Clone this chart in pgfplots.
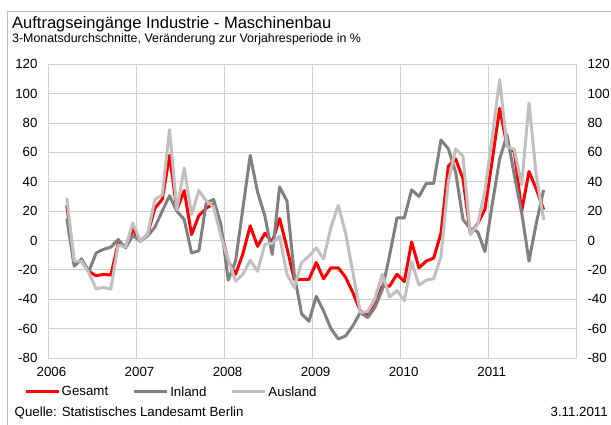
\documentclass[border=0pt]{standalone}
\usepackage{pgfplots}
\pgfplotsset{compat=1.18}
\usepackage{fontspec}
\setmainfont{Liberation Sans}
\definecolor{gesamt}{RGB}{255,0,0}
\definecolor{inland}{RGB}{128,128,128}
\definecolor{ausland}{RGB}{192,192,192}
\definecolor{gridc}{RGB}{206,206,206}
\definecolor{framec}{RGB}{190,190,190}
\pgfplotsset{base/.style={
  scale only axis, width=528.2pt, height=293.7pt,
  xmin=0,xmax=72,ymin=-80,ymax=120,
  xtick={0,12,...,72}, xticklabels={2006,2007,2008,2009,2010,2011,{}},
  ytick={-80,-60,...,120},
  major tick length=0pt,
  axis line style={draw=gridc, line width=1pt},
  /pgf/number format/assume math mode=true,
  ticklabel style={font=\fontsize{13.3}{16}\selectfont},
}}
\begin{document}
\begin{tikzpicture}[x=1pt,y=1pt]
\begin{axis}[base, at={(48.5pt,-358pt)}, anchor=south west,
  grid=major, major grid style={draw=gridc,line width=1pt},
  yticklabel style={xshift=-7.5pt},
  xticklabel style={xshift=3pt,yshift=-6pt},
  legend columns=3,
  legend style={draw=none, fill=none, inner sep=0pt, at={(-0.04638,-0.11576)}, anchor=west,
    font=\fontsize{13.3}{16}\selectfont, nodes={inner xsep=1.5pt},
    /tikz/every even column/.append style={column sep=23pt}},
  legend image code/.code={\draw[#1] (0pt,0pt) -- (33pt,0pt);},
  every axis plot/.append style={line width=3pt, line join=round},
]
\addplot[gesamt] coordinates {
(2.5,24)(3.5,-15)(4.5,-14)(5.5,-21)(6.5,-24)(7.5,-23)(8.5,-23.5)(9.5,-2)(10.5,-4)(11.5,7.5)(12.5,-0.5)(13.5,4)(14.5,22)(15.5,28)(16.5,58)(17.5,21)(18.5,34)(19.5,4)(20.5,17)(21.5,22)(22.5,25)(23.5,6)(24.5,-14)(25.5,-23)(26.5,-9)(27.5,10)(28.5,-4)(29.5,5)(30.5,-1)(31.5,15)(32.5,-5)(33.5,-26.5)(34.5,-26.5)(35.5,-26.5)(36.5,-15)(37.5,-26)(38.5,-18.6)(39.5,-18.6)(40.5,-25)(41.5,-35.6)(42.5,-48)(43.5,-51)(44.5,-44)(45.5,-31)(46.5,-31)(47.5,-23)(48.5,-28)(49.5,-1)(50.5,-18.6)(51.5,-14)(52.5,-12)(53.5,5)(54.5,50.6)(55.5,55.6)(56.5,42)(57.5,4.5)(58.5,11.5)(59.5,21.5)(60.5,55)(61.5,90)(62.5,64.5)(63.5,60.5)(64.5,20)(65.5,47)(66.5,35)(67.5,21)
};
\addlegendentry{Gesamt}
\addplot[inland] coordinates {
(2.5,15)(3.5,-17.5)(4.5,-12.5)(5.5,-21)(6.5,-8.4)(7.5,-6)(8.5,-4.5)(9.5,0.7)(10.5,-5)(11.5,3.5)(12.5,-0.5)(13.5,3)(14.5,9)(15.5,20)(16.5,30.5)(17.5,20)(18.5,14.3)(19.5,-8.4)(20.5,-7)(21.5,25.6)(22.5,28)(23.5,11)(24.5,-27)(25.5,-14)(26.5,22)(27.5,58)(28.5,33)(29.5,16.6)(30.5,-9.5)(31.5,36.5)(32.5,27)(33.5,-23)(34.5,-50)(35.5,-55)(36.5,-38)(37.5,-48)(38.5,-60)(39.5,-67)(40.5,-65)(41.5,-58)(42.5,-49)(43.5,-52.5)(44.5,-45.5)(45.5,-33.4)(46.5,-10)(47.5,15.4)(48.5,15.4)(49.5,34.5)(50.5,30)(51.5,39)(52.5,38.8)(53.5,68.5)(54.5,62.5)(55.5,46.5)(56.5,14.3)(57.5,8)(58.5,6)(59.5,-7.5)(60.5,25)(61.5,55.5)(62.5,72)(63.5,44.5)(64.5,19)(65.5,-14)(66.5,12)(67.5,34.5)
};
\addlegendentry{Inland}
\addplot[ausland] coordinates {
(2.5,29)(3.5,-14)(4.5,-14)(5.5,-22)(6.5,-33)(7.5,-32)(8.5,-33)(9.5,-3)(10.5,-4.5)(11.5,12)(12.5,-0.5)(13.5,4)(14.5,28)(15.5,31)(16.5,75.5)(17.5,21)(18.5,49.5)(19.5,17.7)(20.5,34)(21.5,27)(22.5,23)(23.5,3)(24.5,-13)(25.5,-27.7)(26.5,-23)(27.5,-13.5)(28.5,-21)(29.5,-2.5)(30.5,-2)(31.5,3)(32.5,-23)(33.5,-32)(34.5,-15)(35.5,-10.7)(36.5,-5)(37.5,-12.5)(38.5,9)(39.5,24)(40.5,5)(41.5,-22)(42.5,-49)(43.5,-48.5)(44.5,-39.5)(45.5,-23)(46.5,-38.5)(47.5,-34)(48.5,-41)(49.5,-14.5)(50.5,-30.5)(51.5,-27)(52.5,-26)(53.5,-11)(54.5,40)(55.5,62.4)(56.5,57.4)(57.5,4)(58.5,11)(59.5,34)(60.5,71)(61.5,109.6)(62.5,64)(63.5,62)(64.5,38)(65.5,93.7)(66.5,44)(67.5,14)
};
\addlegendentry{Ausland}
\end{axis}
\begin{axis}[base, at={(48.5pt,-358pt)}, anchor=south west,
  axis line style={draw=none}, xticklabels={},
  yticklabel pos=right, yticklabel style={anchor=west, xshift=7.3pt}]
\addplot[draw=none] coordinates {(0,0)};
\end{axis}
\node[anchor=base west, inner sep=0pt, font=\fontsize{16.5}{19}\selectfont] at (12,-28.3) {Auftragseingänge Industrie - Maschinenbau};
\node[anchor=base west, inner sep=0pt, font=\fontsize{12.4}{15}\selectfont] at (12,-42.3) {3-Monatsdurchschnitte, Veränderung zur Vorjahresperiode in \%};
\node[anchor=base west, inner sep=0pt, font=\fontsize{13.3}{16}\selectfont] at (14.5,-416) {Quelle: Statistisches Landesamt Berlin};
\node[anchor=base east, inner sep=0pt, font=\fontsize{13.3}{16}\selectfont] at (608,-416) {3.11.2011};
\draw[framec, line width=1pt] (7,-12) rectangle (640,-450);
\pgfresetboundingbox
\path[use as bounding box] (0,0) rectangle (611,-425);
\end{tikzpicture}
\end{document}
